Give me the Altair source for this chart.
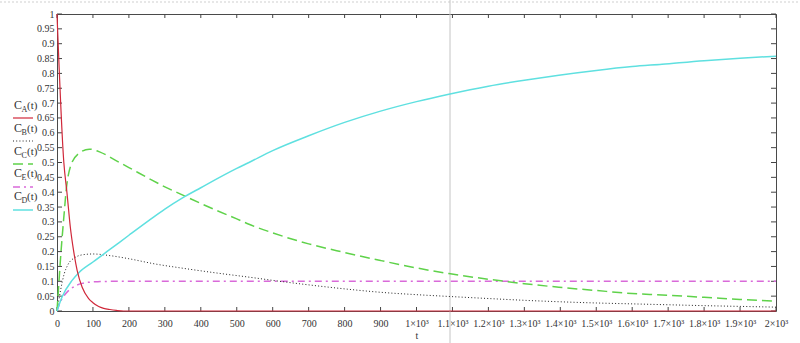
import altair as alt
import pandas as pd

# ---- data ----
t_A = [0, 19, 28, 37, 46, 56, 70, 88, 100, 116, 130, 147, 165, 185, 200, 2000]
c_A = [1.0, 0.50, 0.395, 0.283, 0.204, 0.137, 0.08, 0.042, 0.028, 0.015, 0.009, 0.005, 0.002, 0.0, 0.0, 0.0]

t_B = [0, 10, 20, 30, 50, 75, 100, 150, 200, 270, 350, 450, 534, 626, 700, 812, 900,
       1000, 1090, 1200, 1300, 1400, 1500, 1600, 1700, 1800, 1900, 2000]
c_B = [0, 0.07, 0.125, 0.155, 0.18, 0.19, 0.192, 0.186, 0.176, 0.159, 0.144, 0.127, 0.114,
       0.099, 0.088, 0.073, 0.063, 0.055, 0.049, 0.042, 0.036, 0.031, 0.027, 0.024, 0.021,
       0.018, 0.0155, 0.013]

t_C = [0, 5, 10, 20, 25, 37, 60, 90, 120, 163, 200, 256, 300, 350, 400, 441, 500, 534, 600,
       700, 800, 900, 1000, 1090, 1200, 1300, 1396, 1500, 1600, 1683, 1800, 1900, 2000]
c_C = [0, 0.09, 0.18, 0.33, 0.40, 0.485, 0.53, 0.545, 0.535, 0.507, 0.483, 0.446, 0.418,
       0.39, 0.362, 0.34, 0.31, 0.292, 0.263, 0.226, 0.197, 0.17, 0.145, 0.126, 0.107,
       0.092, 0.080, 0.069, 0.059, 0.054, 0.046, 0.039, 0.033]

t_E = [0, 10, 20, 30, 40, 55, 70, 90, 120, 160, 200, 2000]
c_E = [0, 0.032, 0.052, 0.066, 0.076, 0.087, 0.093, 0.097, 0.099, 0.1, 0.1, 0.1]

t_D = [0, 14, 42, 60, 100, 148, 200, 256, 300, 348, 400, 500, 534, 600, 700, 800, 900,
       1000, 1090, 1200, 1300, 1396, 1500, 1600, 1683, 1800, 1900, 2000]
c_D = [0, 0.047, 0.103, 0.128, 0.165, 0.208, 0.255, 0.305, 0.343, 0.38, 0.415, 0.48, 0.50,
       0.54, 0.59, 0.635, 0.673, 0.705, 0.730, 0.757, 0.777, 0.794, 0.81, 0.823,
       0.831, 0.843, 0.851, 0.858]

x_ticks = list(range(0, 2001, 100))
y_ticks = [round(i * 0.05, 2) for i in range(21)]

legend_names = ["A", "B", "C", "E", "D"]

# ---- layout / style ----
W, H = 719, 297
FONT = "Liberation Serif"
TXT = "#333333"
xs = alt.Scale(domain=[0, 2000], nice=False, zero=False)
ys = alt.Scale(domain=[0, 1], nice=False)

x_label_expr = ("datum.value < 1000 ? format(datum.value, 'd') : "
                "format(datum.value / 1000, '~g') + '\u00d710\u00b3'")

XA = alt.Axis(
    values=x_ticks, labelExpr=x_label_expr, title="t", ticks=False, domain=False,
    grid=False, labelFlush=False, labelOverlap=False, labelPadding=7,
    labelFont=FONT, labelFontSize=10, labelColor=TXT,
    titleFont=FONT, titleFontSize=10, titleFontWeight="normal", titleColor=TXT,
    titlePadding=2)
YA = alt.Axis(
    values=y_ticks, format=".2~f", title=None, ticks=False, domain=False, grid=False,
    labelFlush=False, labelOverlap=False, labelPadding=3,
    labelFont=FONT, labelFontSize=10, labelColor=TXT)

styles = {
    "A": dict(color="#d0283a", dash=None, width=1.2),
    "B": dict(color="#222222", dash=[1, 2.2], width=1.0),
    "C": dict(color="#5fd24a", dash=[10, 5], width=1.5),
    "E": dict(color="#d96ad9", dash=[7, 4, 2, 4], width=1.5),
    "D": dict(color="#5fe0e0", dash=None, width=1.5),
}
series_data = {"A": (t_A, c_A), "B": (t_B, c_B), "C": (t_C, c_C), "E": (t_E, c_E), "D": (t_D, c_D)}


def line(name):
    t, v = series_data[name]
    st = styles[name]
    kw = dict(color=st["color"], strokeWidth=st["width"], interpolate="monotone")
    if st["dash"]:
        kw["strokeDash"] = st["dash"]
    return alt.Chart(pd.DataFrame({"t": t, "c": v})).mark_line(**kw).encode(
        x=alt.X("t:Q", scale=xs, axis=XA),
        y=alt.Y("c:Q", scale=ys, axis=YA),
    )


xt = pd.DataFrame({"t": x_ticks})
yt = pd.DataFrame({"c": y_ticks})

bottom_ticks = alt.Chart(xt).mark_rule(color="#444444").encode(
    x=alt.X("t:Q", scale=xs, axis=XA), y=alt.value(H - 4), y2=alt.value(H),
)
top_ticks = alt.Chart(xt).mark_rule(color="#444444").encode(
    x=alt.X("t:Q", scale=xs, axis=XA), y=alt.value(0), y2=alt.value(4),
)
left_ticks = alt.Chart(yt).mark_rule(color="#444444").encode(
    y=alt.Y("c:Q", scale=ys, axis=YA), x=alt.value(0), x2=alt.value(5),
)
right_ticks = alt.Chart(yt).mark_rule(color="#444444").encode(
    y=alt.Y("c:Q", scale=ys, axis=YA), x=alt.value(W - 5), x2=alt.value(W),
)

one = pd.DataFrame({"k": [0]})
cursor = alt.Chart(one).mark_rule(color="#c4c4c4", strokeWidth=1).encode(
    x=alt.value(393), y=alt.value(-14), y2=alt.value(H + 32),
)
top_dots = alt.Chart(one).mark_rule(color="#cfcfcf", strokeWidth=1, strokeDash=[2, 2]).encode(
    x=alt.value(-57), x2=alt.value(W + 24), y=alt.value(-12),
)

legend_layers = []
for i, name in enumerate(legend_names):
    st = styles[name]
    base_y = 95 + 22.8 * i
    line_y = 104 + 23 * i
    legend_layers.append(alt.Chart(one).mark_text(
        text="C", font=FONT, fontSize=12, color=TXT, align="left", baseline="alphabetic"
    ).encode(x=alt.value(-43), y=alt.value(base_y)))
    legend_layers.append(alt.Chart(one).mark_text(
        text=name, font=FONT, fontSize=8, color=TXT, align="left", baseline="alphabetic"
    ).encode(x=alt.value(-35.5), y=alt.value(base_y + 3)))
    legend_layers.append(alt.Chart(one).mark_text(
        text="(t)", font=FONT, fontSize=11, color=TXT, align="left", baseline="alphabetic"
    ).encode(x=alt.value(-30), y=alt.value(base_y)))
    kw = dict(color=st["color"], strokeWidth=st["width"])
    if st["dash"]:
        kw["strokeDash"] = st["dash"]
    legend_layers.append(alt.Chart(one).mark_rule(**kw).encode(
        x=alt.value(-44), x2=alt.value(-24), y=alt.value(line_y)))

chart = alt.layer(
    top_dots, cursor,
    bottom_ticks, top_ticks, left_ticks, right_ticks,
    line("E"), line("B"), line("C"), line("D"), line("A"),
    *legend_layers,
).properties(
    width=W, height=H,
    autosize=alt.AutoSizeParams(type="none"),
    padding={"left": 57, "top": 14, "right": 24, "bottom": 32},
    background="white",
).configure_view(stroke="#4a4a4a", strokeWidth=1)

chart.save("out.html", embed_options={"renderer": "svg", "actions": False})
